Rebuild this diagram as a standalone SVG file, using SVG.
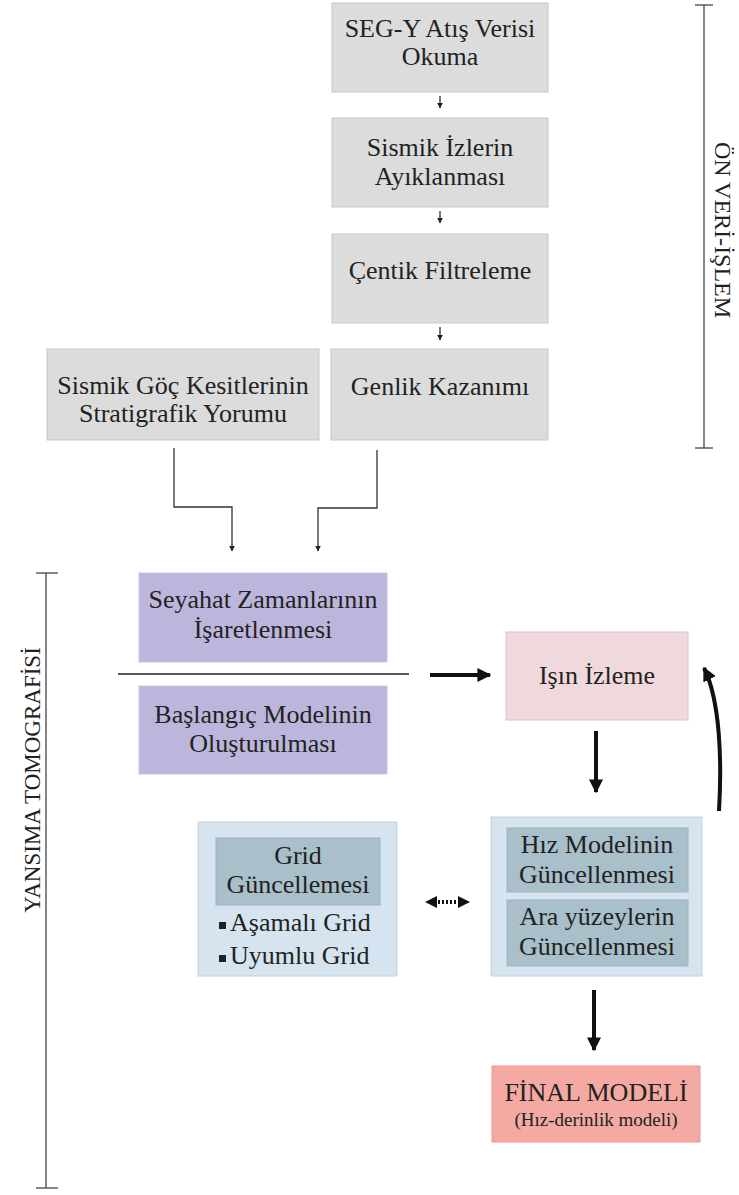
<svg xmlns="http://www.w3.org/2000/svg" width="739" height="1195" viewBox="0 0 739 1195">
<style>
text{font-family:'Liberation Serif','Times New Roman','DejaVu Serif',serif}
.t{font-size:26px;fill:#222;text-anchor:middle}
.s{font-size:19px}
.r{font-size:24px}
.g{fill:#dcdcdc;stroke:#c8c8c8;stroke-width:1}
.p{fill:#bdb6dc;stroke:#c9c3e3;stroke-width:1}
.pk{fill:#f0d9dd;stroke:#dcc4c8;stroke-width:1}
.lb{fill:#d6e4f0;stroke:#c3d2de;stroke-width:1}
.db{fill:#a9bfca;stroke:#9fb4bf;stroke-width:1}
.fn{fill:#f4aaa2;stroke:#e69a92;stroke-width:1}
.c{fill:none;stroke:#333;stroke-width:1.3}
.k{fill:none;stroke:#111;stroke-width:4}
.br{fill:none;stroke:#444;stroke-width:1.3}
</style>
<defs>
<marker id="sm" viewBox="0 0 10 10" refX="9" refY="5" markerWidth="6" markerHeight="6" orient="auto" markerUnits="userSpaceOnUse"><path d="M0,0 L10,5 L0,10 z" fill="#222"/></marker>
<marker id="bg" viewBox="0 0 10 10" refX="9" refY="5" markerWidth="14" markerHeight="14" orient="auto" markerUnits="userSpaceOnUse"><path d="M0,0 L10,5 L0,10 z" fill="#111"/></marker>
</defs>

<g id="bracket-on">
<line class="br" x1="704" y1="5" x2="704" y2="448"/>
<line class="br" x1="695" y1="5" x2="713" y2="5"/>
<line class="br" x1="695" y1="448" x2="713" y2="448"/>
<text class="t r" transform="translate(715,230) rotate(90)">ÖN VERİ-İŞLEM</text>
</g>
<g id="bracket-yansima">
<line class="br" x1="46" y1="573" x2="46" y2="1188"/>
<line class="br" x1="36" y1="573" x2="58" y2="573"/>
<line class="br" x1="36" y1="1188" x2="58" y2="1188"/>
<text class="t" style="font-size:23px" transform="translate(40,780) rotate(-90)">YANSIMA TOMOGRAFİSİ</text>
</g>

<g id="n-segy"><rect class="g" x="332" y="3" width="216" height="89"/>
<text class="t" x="440" y="37">SEG-Y Atış Verisi</text><text class="t" x="440" y="65">Okuma</text></g>
<g id="n-ayiklama"><rect class="g" x="332" y="118" width="216" height="89"/>
<text class="t" x="440" y="156">Sismik İzlerin</text><text class="t" x="440" y="185">Ayıklanması</text></g>
<g id="n-centik"><rect class="g" x="332" y="234" width="216" height="89"/>
<text class="t" x="440" y="279">Çentik Filtreleme</text></g>
<g id="n-genlik"><rect class="g" x="331" y="349" width="217" height="91"/>
<text class="t" x="440" y="395">Genlik Kazanımı</text></g>
<g id="n-goc"><rect class="g" x="47" y="349" width="272" height="91"/>
<text class="t" x="183" y="394">Sismik Göç Kesitlerinin</text><text class="t" x="183" y="422">Stratigrafik Yorumu</text></g>

<g id="n-seyahat"><rect class="p" x="139" y="573" width="248" height="89"/>
<text class="t" x="263" y="608">Seyahat Zamanlarının</text><text class="t" x="263" y="638">İşaretlenmesi</text></g>
<g id="n-baslangic"><rect class="p" x="139" y="686" width="248" height="88"/>
<text class="t" x="263" y="723">Başlangıç Modelinin</text><text class="t" x="263" y="752">Oluşturulması</text></g>
<g id="n-isin"><rect class="pk" x="506" y="632" width="182" height="88"/>
<text class="t" x="597" y="684">Işın İzleme</text></g>

<g id="n-grid"><rect class="lb" x="198" y="822" width="199" height="154"/>
<rect class="db" x="216" y="838" width="164" height="67"/>
<text class="t" x="298" y="864">Grid</text><text class="t" x="298" y="893">Güncellemesi</text>
<rect x="219" y="922" width="7" height="7" fill="#222"/><text class="t" x="230" y="931" style="text-anchor:start">Aşamalı Grid</text>
<rect x="219" y="955" width="7" height="7" fill="#222"/><text class="t" x="230" y="964" style="text-anchor:start">Uyumlu Grid</text></g>
<g id="n-guncelle"><rect class="lb" x="491" y="817" width="211" height="159"/>
<rect class="db" x="507" y="828" width="181" height="64"/>
<text class="t" x="597" y="853">Hız Modelinin</text><text class="t" x="597" y="883">Güncellenmesi</text>
<rect class="db" x="507" y="900" width="181" height="66"/>
<text class="t" x="597" y="925">Ara yüzeylerin</text><text class="t" x="597" y="955">Güncellenmesi</text></g>
<g id="n-final"><rect class="fn" x="492" y="1066" width="208" height="76"/>
<text class="t" x="596" y="1101">FİNAL MODELİ</text><text class="t s" x="596" y="1126">(Hız-derinlik modeli)</text></g>

<g id="connectors">
<line class="c" x1="440" y1="96" x2="440" y2="108" marker-end="url(#sm)"/>
<line class="c" x1="440" y1="211" x2="440" y2="223" marker-end="url(#sm)"/>
<line class="c" x1="440" y1="327" x2="440" y2="340" marker-end="url(#sm)"/>
<polyline class="c" points="174,448 174,507 232,507 232,551" marker-end="url(#sm)"/>
<polyline class="c" points="377,450 377,508 318,508 318,551" marker-end="url(#sm)"/>
<line x1="118" y1="674" x2="409" y2="674" stroke="#222" stroke-width="1.5"/>
<line class="k" x1="430" y1="675" x2="490" y2="675" marker-end="url(#bg)"/>
<line class="k" x1="596" y1="731" x2="596" y2="792" marker-end="url(#bg)"/>
<path class="k" d="M719,811 C722,760 720,700 704,668" marker-end="url(#bg)"/>
<line class="k" x1="594" y1="990" x2="594" y2="1050" marker-end="url(#bg)"/>
<line x1="434" y1="902" x2="460" y2="902" stroke="#111" stroke-width="4" stroke-dasharray="2,2"/>
<path d="M425,902 L437,896 L437,908 z M470,902 L458,896 L458,908 z" fill="#111"/>
</g>
</svg>
